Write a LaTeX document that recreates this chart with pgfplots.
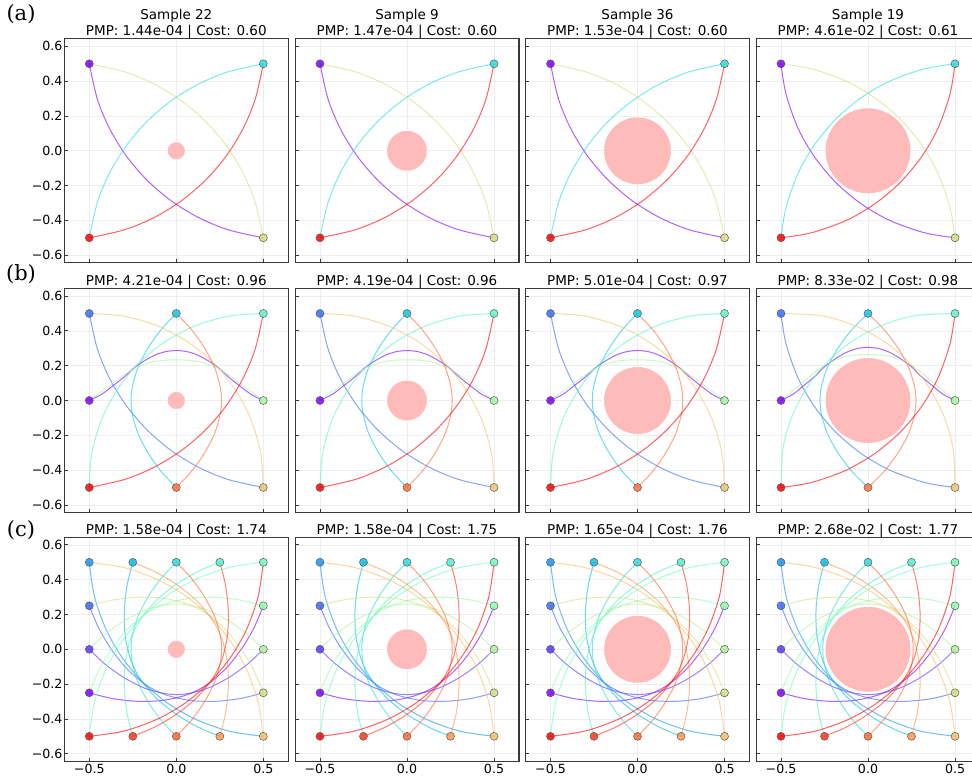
\documentclass[border=0pt]{standalone}
\usepackage{fontspec}
\setmainfont{DejaVu Sans}
\newfontfamily\labfont{DejaVu Serif}
\usepackage{pgfplots}
\usepackage{pgfplotstable}
\pgfplotsset{compat=1.18}

% rainbow colours, i/15
\definecolor{c0}{rgb}{0.5,0,1}
\definecolor{c1}{rgb}{0.3667,0.2079,0.9945}
\definecolor{c2}{rgb}{0.2333,0.4067,0.9781}
\definecolor{c3}{rgb}{0.1,0.5878,0.9511}
\definecolor{c4}{rgb}{0.0333,0.7431,0.9135}
\definecolor{c5}{rgb}{0.1667,0.8660,0.8660}
\definecolor{c6}{rgb}{0.3,0.9511,0.8090}
\definecolor{c7}{rgb}{0.4333,0.9945,0.7431}
\definecolor{c8}{rgb}{0.5667,0.9945,0.6691}
\definecolor{c9}{rgb}{0.7,0.9511,0.5878}
\definecolor{c10}{rgb}{0.8333,0.8660,0.5}
\definecolor{c11}{rgb}{0.9667,0.7431,0.4067}
\definecolor{c12}{rgb}{1,0.5878,0.3090}
\definecolor{c13}{rgb}{1,0.4067,0.2079}
\definecolor{c14}{rgb}{1,0.2079,0.1045}
\definecolor{c15}{rgb}{1,0,0}
% rainbow colours, i/7
\definecolor{b1}{rgb}{0.2143,0.4339,0.9749}
\definecolor{b2}{rgb}{0.0714,0.7818,0.9010}
\definecolor{b3}{rgb}{0.3571,0.9749,0.7818}
\definecolor{b4}{rgb}{0.6429,0.9749,0.6235}
\definecolor{b5}{rgb}{0.9286,0.7818,0.4339}
\definecolor{b6}{rgb}{1,0.4339,0.2225}
\definecolor{obst}{RGB}{255,186,186}

% ---------- row (a), columns 1-3 ----------
\pgfplotstableread{
x y
-0.5 -0.5
-0.2965 -0.4536
-0.1271 -0.3834
0.0292 -0.2876
0.1685 -0.1685
0.2876 -0.0292
0.3834 0.1271
0.4536 0.2965
0.5 0.5
}\RaR
\pgfplotstableread{
x y
0.5 -0.5
0.4536 -0.2965
0.3834 -0.1271
0.2876 0.0292
0.1685 0.1685
0.0292 0.2876
-0.1271 0.3834
-0.2965 0.4536
-0.5 0.5
}\RaK
\pgfplotstableread{
x y
0.5 0.5
0.2965 0.4536
0.1271 0.3834
-0.0292 0.2876
-0.1685 0.1685
-0.2876 0.0292
-0.3834 -0.1271
-0.4536 -0.2965
-0.5 -0.5
}\RaC
\pgfplotstableread{
x y
-0.5 0.5
-0.4536 0.2965
-0.3834 0.1271
-0.2876 -0.0292
-0.1685 -0.1685
-0.0292 -0.2876
0.1271 -0.3834
0.2965 -0.4536
0.5 -0.5
}\RaP
% ---------- row (a), column 4 (wider around the large obstacle) ----------
\pgfplotstableread{
x y
-0.5 -0.5
-0.3252 -0.4712
-0.1276 -0.4013
0.0375 -0.3060
0.1835 -0.1835
0.3060 -0.0375
0.4013 0.1276
0.4712 0.3252
0.5 0.5
}\RdR
\pgfplotstableread{
x y
0.5 -0.5
0.4712 -0.3252
0.4013 -0.1276
0.3060 0.0375
0.1835 0.1835
0.0375 0.3060
-0.1276 0.4013
-0.3252 0.4712
-0.5 0.5
}\RdK
\pgfplotstableread{
x y
0.5 0.5
0.3252 0.4712
0.1276 0.4013
-0.0375 0.3060
-0.1835 0.1835
-0.3060 0.0375
-0.4013 -0.1276
-0.4712 -0.3252
-0.5 -0.5
}\RdC
\pgfplotstableread{
x y
-0.5 0.5
-0.4712 0.3252
-0.4013 0.1276
-0.3060 -0.0375
-0.1835 -0.1835
-0.0375 -0.3060
0.1276 -0.4013
0.3252 -0.4712
0.5 -0.5
}\RdP

% ---------- row (b), columns 1-3 ----------
\pgfplotstableread{
x y
-0.5 0
-0.43 0.035
-0.37 0.08
-0.3 0.135
-0.245 0.186
-0.18 0.23
-0.12 0.262
-0.06 0.281
0 0.287
0.06 0.281
0.12 0.262
0.18 0.23
0.245 0.186
0.3 0.135
0.37 0.08
0.43 0.035
0.5 0
}\RbP
\pgfplotstableread{
x y
0.5 0
0.44 0.045
0.377 0.09
0.31 0.14
0.243 0.182
0.17 0.213
0.1 0.229
0 0.234
-0.1 0.229
-0.17 0.213
-0.243 0.182
-0.31 0.14
-0.377 0.09
-0.44 0.045
-0.5 0
}\RbG
\pgfplotstableread{
x y
0 0.5
-0.085 0.41
-0.16 0.305
-0.22 0.19
-0.252 0.08
-0.26 0
-0.252 -0.08
-0.22 -0.19
-0.16 -0.305
-0.085 -0.41
0 -0.5
}\RbC
\pgfplotstableread{
x y
0 -0.5
0.085 -0.41
0.16 -0.305
0.22 -0.19
0.252 -0.08
0.26 0
0.252 0.08
0.22 0.19
0.16 0.305
0.085 0.41
0 0.5
}\RbO
\pgfplotstableread{
x y
0.5 0.5
0.3054 0.4855
0.1095 0.4293
-0.0705 0.3336
-0.2148 0.2148
-0.3336 0.0705
-0.4293 -0.1095
-0.4855 -0.3054
-0.5 -0.5
}\RbA
\pgfplotstableread{
x y
0.5 -0.5
0.4855 -0.3054
0.4293 -0.1095
0.3336 0.0705
0.2148 0.2148
0.0705 0.3336
-0.1095 0.4293
-0.3054 0.4855
-0.5 0.5
}\RbT
% ---------- row (b), column 4 ----------
\pgfplotstableread{
x y
-0.5 0
-0.43 0.037
-0.37 0.085
-0.3 0.1435
-0.245 0.198
-0.18 0.2445
-0.12 0.2785
-0.06 0.2987
0 0.305
0.06 0.2987
0.12 0.2785
0.18 0.2445
0.245 0.198
0.3 0.1435
0.37 0.085
0.43 0.037
0.5 0
}\ReP
\pgfplotstableread{
x y
0.5 0
0.44 0.0508
0.377 0.1015
0.31 0.158
0.243 0.2053
0.17 0.2403
0.1 0.2583
0 0.264
-0.1 0.2583
-0.17 0.2403
-0.243 0.2053
-0.31 0.158
-0.377 0.1015
-0.44 0.0508
-0.5 0
}\ReG
\pgfplotstableread{
x y
0 0.5
-0.090 0.41
-0.170 0.305
-0.2335 0.19
-0.2675 0.08
-0.276 0
-0.2675 -0.08
-0.2335 -0.19
-0.170 -0.305
-0.090 -0.41
0 -0.5
}\ReC
\pgfplotstableread{
x y
0 -0.5
0.090 -0.41
0.170 -0.305
0.2335 -0.19
0.2675 -0.08
0.276 0
0.2675 0.08
0.2335 0.19
0.170 0.305
0.090 0.41
0 0.5
}\ReO
\pgfplotstableread{
x y
0.5 0.5
0.2726 0.4880
0.0842 0.4339
-0.0889 0.3419
-0.2276 0.2276
-0.3419 0.0889
-0.4339 -0.0842
-0.4880 -0.2726
-0.5 -0.5
}\ReA
\pgfplotstableread{
x y
0.5 -0.5
0.4880 -0.2726
0.4339 -0.0842
0.3419 0.0889
0.2276 0.2276
0.0889 0.3419
-0.0842 0.4339
-0.2726 0.4880
-0.5 0.5
}\ReT

% ---------- row (c) ----------
\pgfplotstableread{
x y
-0.5 -0.25
-0.3709 -0.2823
-0.2321 -0.2983
-0.0894 -0.2951
0.0353 -0.2697
0.1185 -0.2370
0.1945 -0.1901
0.2898 -0.1055
0.3779 0.0067
0.4483 0.1273
0.5 0.25
}\cgA
\pgfplotstableread{
x y
-0.5 0
-0.41 -0.085
-0.305 -0.16
-0.19 -0.22
-0.08 -0.252
0 -0.26
0.08 -0.252
0.19 -0.22
0.305 -0.16
0.41 -0.085
0.5 0
}\cgB
\pgfplotstableread{
x y
-0.5 0.25
-0.4483 0.1273
-0.3779 0.0067
-0.2898 -0.1055
-0.1945 -0.1901
-0.1185 -0.2370
-0.0353 -0.2697
0.0894 -0.2951
0.2321 -0.2983
0.3709 -0.2823
0.5 -0.25
}\cgC
\pgfplotstableread{
x y
-0.5 0.5
-0.4702 0.3026
-0.4023 0.1109
-0.3099 -0.0493
-0.1909 -0.1909
-0.0493 -0.3099
0.1109 -0.4023
0.3026 -0.4702
0.5 -0.5
}\cgD
\pgfplotstableread{
x y
-0.25 0.5
-0.2823 0.3709
-0.2983 0.2321
-0.2951 0.0894
-0.2697 -0.0353
-0.2370 -0.1185
-0.1901 -0.1945
-0.1055 -0.2898
0.0067 -0.3779
0.1273 -0.4483
0.25 -0.5
}\cgE
\pgfplotstableread{
x y
0.25 0.5
0.1273 0.4483
0.0067 0.3779
-0.1055 0.2898
-0.1901 0.1945
-0.2370 0.1185
-0.2697 0.0353
-0.2951 -0.0894
-0.2983 -0.2321
-0.2823 -0.3709
-0.25 -0.5
}\cgG
\pgfplotstableread{
x y
0.5 0.5
0.3026 0.4702
0.1109 0.4023
-0.0493 0.3099
-0.1909 0.1909
-0.3099 0.0493
-0.4023 -0.1109
-0.4702 -0.3026
-0.5 -0.5
}\cgH
\pgfplotstableread{
x y
0.5 0.25
0.3709 0.2823
0.2321 0.2983
0.0894 0.2951
-0.0353 0.2697
-0.1185 0.2370
-0.1945 0.1901
-0.2898 0.1055
-0.3779 -0.0067
-0.4483 -0.1273
-0.5 -0.25
}\cgI
\pgfplotstableread{
x y
0.5 0
0.41 0.085
0.305 0.16
0.19 0.22
0.08 0.252
0 0.26
-0.08 0.252
-0.19 0.22
-0.305 0.16
-0.41 0.085
-0.5 0
}\cgJ
\pgfplotstableread{
x y
0.5 -0.25
0.4483 -0.1273
0.3779 -0.0067
0.2898 0.1055
0.1945 0.1901
0.1185 0.2370
0.0353 0.2697
-0.0894 0.2951
-0.2321 0.2983
-0.3709 0.2823
-0.5 0.25
}\cgK
\pgfplotstableread{
x y
0.5 -0.5
0.4702 -0.3026
0.4023 -0.1109
0.3099 0.0493
0.1909 0.1909
0.0493 0.3099
-0.1109 0.4023
-0.3026 0.4702
-0.5 0.5
}\cgL
\pgfplotstableread{
x y
0.25 -0.5
0.2823 -0.3709
0.2983 -0.2321
0.2951 -0.0894
0.2697 0.0353
0.2370 0.1185
0.1901 0.1945
0.1055 0.2898
-0.0067 0.3779
-0.1273 0.4483
-0.25 0.5
}\cgM
\pgfplotstableread{
x y
-0.25 -0.5
-0.1273 -0.4483
-0.0067 -0.3779
0.1055 -0.2898
0.1901 -0.1945
0.2370 -0.1185
0.2697 -0.0353
0.2951 0.0894
0.2983 0.2321
0.2823 0.3709
0.25 0.5
}\cgO
\pgfplotstableread{
x y
-0.5 -0.5
-0.3026 -0.4702
-0.1109 -0.4023
0.0493 -0.3099
0.1909 -0.1909
0.3099 -0.0493
0.4023 0.1109
0.4702 0.3026
0.5 0.5
}\cgP

\newcommand\ttl{\fontsize{13.5}{16}\selectfont}
\newcommand\trj[2]{\addplot[draw=#1, draw opacity=0.62, line width=1pt, smooth, mark=none] table[x=x,y=y] {#2};}
\newcommand\ag[3]{\addplot[only marks, mark=*, mark size=4pt, mark options={fill=#1, fill opacity=0.85, draw=black!65, line width=0.5pt}] coordinates {(#2,#3)};}
\newcommand\obs[1]{\addplot[only marks, mark=*, mark size=#1, mark options={fill=obst, draw=white, line width=1pt}] coordinates {(0,0)};}

% #1 radius, #2-#5 tables: purple, cyan, khaki, red
\newcommand\rowa[5]{%
\trj{c0}{#2}\trj{c5}{#3}\trj{c10}{#4}\trj{c15}{#5}%
\obs{#1}%
\ag{c0}{-0.5}{0.5}\ag{c5}{0.5}{0.5}\ag{c10}{0.5}{-0.5}\ag{c15}{-0.5}{-0.5}}
% #1 radius, #2-#9 tables in agent order
\newcommand\rowb[9]{%
\trj{c0}{#2}\trj{b1}{#3}\trj{b2}{#4}\trj{b3}{#5}\trj{b4}{#6}\trj{b5}{#7}\trj{b6}{#8}\trj{c15}{#9}%
\obs{#1}%
\ag{c0}{-0.5}{0}\ag{b1}{-0.5}{0.5}\ag{b2}{0}{0.5}\ag{b3}{0.5}{0.5}\ag{b4}{0.5}{0}\ag{b5}{0.5}{-0.5}\ag{b6}{0}{-0.5}\ag{c15}{-0.5}{-0.5}}
\newcommand\rowc[1]{%
\trj{c0}{\cgA}\trj{c1}{\cgB}\trj{c2}{\cgC}\trj{c3}{\cgD}\trj{c4}{\cgE}\trj{c5}{\RbC}\trj{c6}{\cgG}\trj{c7}{\cgH}%
\trj{c8}{\cgI}\trj{c9}{\cgJ}\trj{c10}{\cgK}\trj{c11}{\cgL}\trj{c12}{\cgM}\trj{c13}{\RbO}\trj{c14}{\cgO}\trj{c15}{\cgP}%
\obs{#1}%
\ag{c0}{-0.5}{-0.25}\ag{c1}{-0.5}{0}\ag{c2}{-0.5}{0.25}\ag{c3}{-0.5}{0.5}\ag{c4}{-0.25}{0.5}\ag{c5}{0}{0.5}\ag{c6}{0.25}{0.5}\ag{c7}{0.5}{0.5}%
\ag{c8}{0.5}{0.25}\ag{c9}{0.5}{0}\ag{c10}{0.5}{-0.25}\ag{c11}{0.5}{-0.5}\ag{c12}{0.25}{-0.5}\ag{c13}{0}{-0.5}\ag{c14}{-0.25}{-0.5}\ag{c15}{-0.5}{-0.5}}

\pgfplotsset{
 every axis title/.style={at={(0.5,1)}, anchor=base, yshift=3pt, font=\ttl},
 panel/.style={
  anchor=south west, scale only axis, width=223.8pt, height=223.8pt,
  xmin=-0.643, xmax=0.643, ymin=-0.643, ymax=0.643,
  clip=false,
  axis line style={draw=black!78, line width=1.2pt},
  tick align=inside, tick pos=left,
  xtick={-0.5,0,0.5}, ytick={-0.6,-0.4,-0.2,0,0.2,0.4,0.6},
  xticklabels={}, yticklabels={},
  major tick length=3.5pt,
  tick style={draw=black!78, line width=0.8pt},
  xmajorgrids, ymajorgrids, major grid style={draw=black!7, line width=0.6pt},
  tick label style={font=\fontsize{12.6}{14}\selectfont},
  yticklabel style={xshift=1.5pt},
  xticklabel style={yshift=1pt},
 },
 ylab/.style={yticklabels={−0.6,−0.4,−0.2,0.0,0.2,0.4,0.6}},
 xlab/.style={xticklabels={−0.5,0.0,0.5}},
}

\begin{document}
\begin{tikzpicture}
\useasboundingbox (0,0) rectangle (972pt,776pt);
\clip (0,0) rectangle (972pt,776pt);

% ---- row (a) ----
\begin{axis}[panel, ylab, at={(64.4pt,513.3pt)}, title={PMP: 1.44e-04 | Cost: 0.60}]
\rowa{9.2pt}{\RaP}{\RaC}{\RaK}{\RaR}
\node[anchor=base, font=\ttl, yshift=19pt] at (rel axis cs:0.5,1) {Sample 22};
\end{axis}
\begin{axis}[panel, at={(295.1pt,513.3pt)}, title={PMP: 1.47e-04 | Cost: 0.60}]
\rowa{20.5pt}{\RaP}{\RaC}{\RaK}{\RaR}
\node[anchor=base, font=\ttl, yshift=19pt] at (rel axis cs:0.5,1) {Sample 9};
\end{axis}
\begin{axis}[panel, at={(525.6pt,513.3pt)}, title={PMP: 1.53e-04 | Cost: 0.60}]
\rowa{34pt}{\RaP}{\RaC}{\RaK}{\RaR}
\node[anchor=base, font=\ttl, yshift=19pt] at (rel axis cs:0.5,1) {Sample 36};
\end{axis}
\begin{axis}[panel, at={(756.1pt,513.3pt)}, title={PMP: 4.61e-02 | Cost: 0.61}]
\rowa{43pt}{\RdP}{\RdC}{\RdK}{\RdR}
\node[anchor=base, font=\ttl, yshift=19pt] at (rel axis cs:0.5,1) {Sample 19};
\end{axis}

% ---- row (b) ----
\begin{axis}[panel, ylab, at={(64.4pt,263.6pt)}, title={PMP: 4.21e-04 | Cost: 0.96}]
\rowb{9.2pt}{\RbP}{\RaP}{\RbC}{\RbA}{\RbG}{\RbT}{\RbO}{\RaR}
\end{axis}
\begin{axis}[panel, at={(295.1pt,263.6pt)}, title={PMP: 4.19e-04 | Cost: 0.96}]
\rowb{20.5pt}{\RbP}{\RaP}{\RbC}{\RbA}{\RbG}{\RbT}{\RbO}{\RaR}
\end{axis}
\begin{axis}[panel, at={(525.6pt,263.6pt)}, title={PMP: 5.01e-04 | Cost: 0.97}]
\rowb{34pt}{\RbP}{\RaP}{\RbC}{\RbA}{\RbG}{\RbT}{\RbO}{\RaR}
\end{axis}
\begin{axis}[panel, at={(756.1pt,263.6pt)}, title={PMP: 8.33e-02 | Cost: 0.98}]
\rowb{43pt}{\ReP}{\RdP}{\ReC}{\ReA}{\ReG}{\ReT}{\ReO}{\RdR}
\end{axis}

% ---- row (c) ----
\begin{axis}[panel, ylab, xlab, at={(64.4pt,14.8pt)}, title={PMP: 1.58e-04 | Cost: 1.74}]
\rowc{9.2pt}
\end{axis}
\begin{axis}[panel, xlab, at={(295.1pt,14.8pt)}, title={PMP: 1.58e-04 | Cost: 1.75}]
\rowc{20.5pt}
\end{axis}
\begin{axis}[panel, xlab, at={(525.6pt,14.8pt)}, title={PMP: 1.65e-04 | Cost: 1.76}]
\rowc{34pt}
\end{axis}
\begin{axis}[panel, xlab, at={(756.1pt,14.8pt)}, title={PMP: 2.68e-02 | Cost: 1.77}]
\rowc{43pt}
\end{axis}

\node[font=\labfont\fontsize{21}{21}\selectfont] at (21pt,762pt) {(a)};
\node[font=\labfont\fontsize{21}{21}\selectfont] at (21pt,501.5pt) {(b)};
\node[font=\labfont\fontsize{21}{21}\selectfont] at (21pt,246pt) {(c)};
\end{tikzpicture}
\end{document}
